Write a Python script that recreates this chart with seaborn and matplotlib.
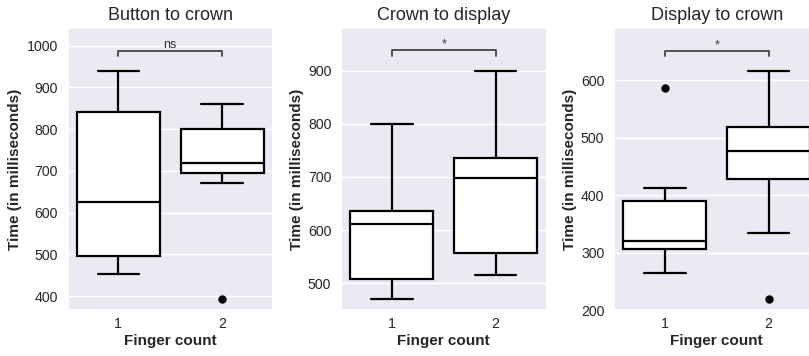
import numpy as np
import pandas as pd
import matplotlib
matplotlib.use("Agg")
import matplotlib.pyplot as plt
import seaborn as sns

sns.set_theme(style="darkgrid")
plt.rcParams['font.family'] = ['Liberation Sans', 'DejaVu Sans']

titles = ["Button to crown", "Crown to display", "Display to crown"]
finger_counts = ["1", "2"]

# Raw samples per panel / finger count (read from box stats)
btc_1 = [452, 497, 626, 840, 940]
btc_2 = [394, 671, 694, 705, 719, 760, 800, 830, 861]
ctd_1 = [470, 509, 611, 637, 800]
ctd_2 = [515, 558, 698, 736, 900]
dtc_1 = [264, 290, 306, 312, 321, 350, 389, 413, 587]
dtc_2 = [220, 334, 428, 450, 477, 500, 518, 560, 617]

panels = [(btc_1, btc_2), (ctd_1, ctd_2), (dtc_1, dtc_2)]
sig_labels = ["ns", "*", "*"]
bracket_y = [988, 938, 651]
bracket_tip = [975, 928, 642]
ylims = [(367, 1042), (450, 980), (200, 691)]
yticks = [[400, 500, 600, 700, 800, 900, 1000],
          [500, 600, 700, 800, 900],
          [200, 300, 400, 500, 600]]

W, H = 809, 356
fig = plt.figure(figsize=(W / 100, H / 100), dpi=100)
lefts = [67.5, 341, 614]
ax_w = 205.5
ax_top, ax_bot = 28, 310

for i, (g1, g2) in enumerate(panels):
    ax = fig.add_axes([lefts[i] / W, (H - ax_bot) / H, ax_w / W, (ax_bot - ax_top) / H])
    df = pd.DataFrame({
        "Finger count": [finger_counts[0]] * len(g1) + [finger_counts[1]] * len(g2),
        "Time": g1 + g2,
    })
    sns.boxplot(data=df, x="Finger count", y="Time", ax=ax, color="white",
                linecolor="black", linewidth=1.6, width=0.8,
                flierprops=dict(marker="o", markerfacecolor="black",
                                markeredgecolor="black", markersize=5))
    for p in ax.patches:
        p.set_facecolor("white")
    ax.set_ylim(*ylims[i])
    ax.set_yticks(yticks[i])
    ax.set_title(titles[i], fontsize=13, pad=6)
    ax.set_xlabel("Finger count", fontsize=11, fontweight="bold", labelpad=2)
    ax.set_ylabel("Time (in milliseconds)", fontsize=11, fontweight="bold", labelpad=3)
    ax.tick_params(axis="x", labelsize=10.2, colors="#262626", length=0, pad=5)
    ax.tick_params(axis="y", labelsize=10.2, colors="#262626", length=0, pad=7)
    ax.grid(axis="x", visible=False)
    # significance bracket
    ax.plot([0, 0, 1, 1], [bracket_tip[i], bracket_y[i], bracket_y[i], bracket_tip[i]],
            color="#444444", linewidth=1.3)
    ax.text(0.5, bracket_y[i], sig_labels[i], ha="center", va="bottom",
            fontsize=9, color="#333333")

fig.savefig("out.png", dpi=100)
